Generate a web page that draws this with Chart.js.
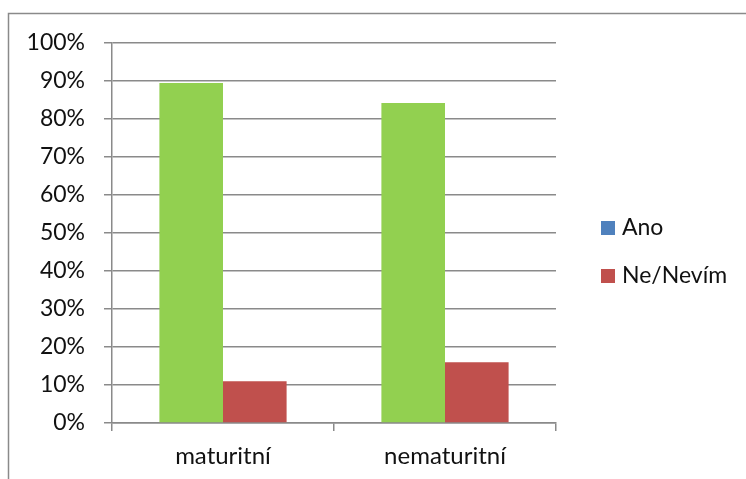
<!DOCTYPE html>
<html>
<head>
<meta charset="utf-8">
<script src="https://cdn.jsdelivr.net/npm/chart.js@4"></script>
<style>
  html, body { margin: 0; padding: 0; background: #fff; }
  #wrap { position: relative; width: 746px; height: 479px; }
</style>
</head>
<body>
<div id="wrap"><canvas id="chart" width="746" height="479"></canvas></div>
<script>
  const categories = ['maturitní', 'nematuritní'];
  const seriesNames = ['Ano', 'Ne/Nevím'];
  const ano = [89.5, 84.2];
  const neNevim = [11, 16];
  const yTicks = [0, 10, 20, 30, 40, 50, 60, 70, 80, 90, 100];

  const barColors = ['#92D050', '#C0504D'];
  const legendColors = ['#4F81BD', '#C0504D'];
  const lineGray = '#8a8a8a';
  const fontFamily = 'Lato, "Open Sans", sans-serif';

  // outer frame like an office chart object
  const framePlugin = {
    id: 'frame',
    beforeDraw(chart) {
      const ctx = chart.ctx;
      ctx.save();
      ctx.strokeStyle = lineGray;
      ctx.lineWidth = 1.5;
      ctx.strokeRect(8.5, 13.5, 900, 600);
      ctx.restore();
    }
  };

  // right-hand legend, drawn by hand to get the spacing of the original
  const sideLegend = {
    id: 'sideLegend',
    afterDraw(chart) {
      const ctx = chart.ctx;
      const rows = [228, 276];
      ctx.save();
      ctx.font = '23px ' + fontFamily;
      ctx.textBaseline = 'middle';
      ctx.textAlign = 'left';
      seriesNames.forEach((name, i) => {
        ctx.fillStyle = legendColors[i];
        ctx.fillRect(601, rows[i] - 7, 14, 14);
        ctx.fillStyle = '#111';
        ctx.fillText(name, 622, rows[i]);
      });
      ctx.restore();
    }
  };

  const ctx = document.getElementById('chart').getContext('2d');
  new Chart(ctx, {
    type: 'bar',
    data: {
      labels: categories,
      datasets: [
        {
          label: seriesNames[0],
          data: ano,
          backgroundColor: barColors[0],
          categoryPercentage: 0.573,
          barPercentage: 1
        },
        {
          label: seriesNames[1],
          data: neNevim,
          backgroundColor: barColors[1],
          categoryPercentage: 0.573,
          barPercentage: 1
        }
      ]
    },
    options: {
      responsive: false,
      animation: false,
      events: [],
      layout: { padding: { left: 0, top: 43, right: 190, bottom: 0 } },
      plugins: {
        legend: { display: false },
        tooltip: { enabled: false }
      },
      scales: {
        x: {
          offset: true,
          grid: {
            offset: true,
            drawOnChartArea: false,
            drawTicks: true,
            tickLength: 8,
            color: lineGray,
            lineWidth: 1.5
          },
          border: { color: lineGray, width: 1.5 },
          ticks: { color: '#111', font: { family: fontFamily, size: 24 }, padding: 11 },
          afterFit(scale) { scale.height = 56; }
        },
        y: {
          min: 0,
          max: 100,
          afterBuildTicks(scale) { scale.ticks = yTicks.map((v) => ({ value: v })); },
          grid: {
            color: lineGray,
            lineWidth: 1.5,
            drawTicks: true,
            tickLength: 8
          },
          border: { color: lineGray, width: 1.5 },
          ticks: {
            color: '#111',
            font: { family: fontFamily, size: 23 },
            padding: 19,
            callback: (v) => v + '%'
          },
          afterFit(scale) { scale.width = 112; }
        }
      }
    },
    plugins: [framePlugin, sideLegend]
  });
</script>
</body>
</html>
